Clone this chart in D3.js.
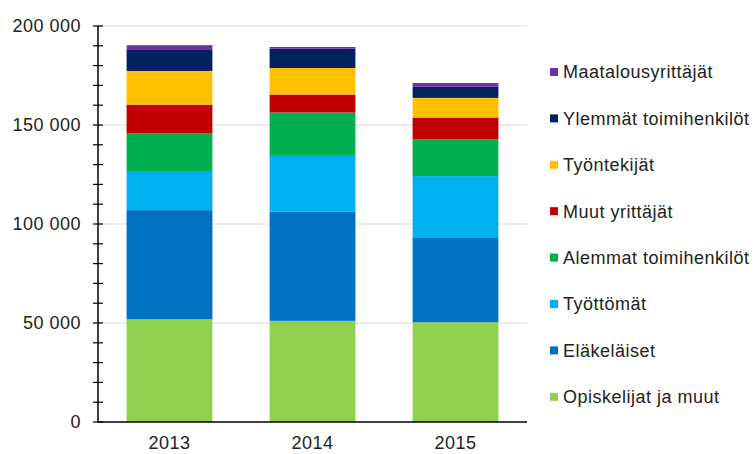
<!DOCTYPE html>
<html>
<head>
<meta charset="utf-8">
<script src="https://cdn.jsdelivr.net/npm/d3@7"></script>
<style>
    body { margin: 0; background: #fff; }
    text { font-family: "Liberation Sans", Arial, sans-serif; fill: #222; }
</style>
</head>
<body>
<div class="chart"></div>
<script>
// years on the x axis
const years = ["2013", "2014", "2015"];

// series, bottom of the stack first
const series = ["Opiskelijat ja muut", "Eläkeläiset", "Työttömät", "Alemmat toimihenkilöt",
    "Muut yrittäjät", "Työntekijät", "Ylemmät toimihenkilöt", "Maatalousyrittäjät"];
const colors = ["#92D050", "#0070C0", "#00B0F0", "#00B050", "#C00000", "#FFC000", "#002060", "#7030A0"];

const opiskelijat = [51900, 51100, 50400];
const elakelaiset = [55100, 55100, 42900];
const tyottomat = [19300, 28200, 30900];
const alemmat = [19400, 21900, 18500];
const muutYrittajat = [14600, 9100, 11100];
const tyontekijat = [17000, 13400, 9900];
const ylemmat = [10600, 9800, 5600];
const maatalous = [2400, 800, 1900];

const yTicks = [0, 50000, 100000, 150000, 200000];

document.addEventListener("DOMContentLoaded", function () {

    const w = 754,
        h = 454,
        left = 98,
        right = 527,
        top = 26,
        bottom = 422;

    const values = [opiskelijat, elakelaiset, tyottomat, alemmat, muutYrittajat, tyontekijat, ylemmat, maatalous];
    const dataset = years.map((y, i) => {
        const row = { year: y };
        series.forEach((s, j) => row[s] = values[j][i]);
        return row;
    });

    const stacked = d3.stack().keys(series)(dataset);

    const xScale = d3.scaleBand()
        .domain(years)
        .range([left, right])
        .paddingInner(0.4)
        .paddingOuter(0.2);

    const yScale = d3.scaleLinear()
        .domain([0, 200000])
        .range([bottom, top]);

    const fmt = d => d3.format(",")(d).replace(/,/g, " ");

    const svg = d3.select(".chart")
        .append("svg")
        .attr("width", w)
        .attr("height", h);

    // gridlines
    svg.append("g")
        .selectAll("line")
        .data(yTicks.slice(1))
        .enter()
        .append("line")
        .attr("x1", left)
        .attr("x2", right)
        .attr("y1", d => yScale(d))
        .attr("y2", d => yScale(d))
        .attr("stroke", "#d9d9d9")
        .attr("stroke-width", 1);

    // bars
    svg.append("g")
        .selectAll("g")
        .data(stacked)
        .enter()
        .append("g")
        .attr("fill", (d, i) => colors[i])
        .selectAll("rect")
        .data(d => d)
        .enter()
        .append("rect")
        .attr("x", d => xScale(d.data.year))
        .attr("y", d => yScale(d[1]))
        .attr("width", xScale.bandwidth())
        .attr("height", d => yScale(d[0]) - yScale(d[1]));

    // y axis with minor ticks crossing the line
    const yAxis = svg.append("g")
        .attr("id", "y-axis")
        .attr("transform", "translate(" + left + ",0)");

    yAxis.append("line")
        .attr("y1", yScale(200000))
        .attr("y2", yScale(0))
        .attr("stroke", "#000")
        .attr("stroke-width", 1.5);

    yAxis.selectAll(".minor")
        .data(yScale.ticks(20))
        .enter()
        .append("line")
        .attr("x1", -5)
        .attr("x2", 5)
        .attr("y1", d => yScale(d))
        .attr("y2", d => yScale(d))
        .attr("stroke", "#000")
        .attr("stroke-width", 1.2);

    yAxis.selectAll("text")
        .data(yTicks)
        .enter()
        .append("text")
        .attr("x", -17)
        .attr("y", d => yScale(d))
        .attr("dy", "0.36em")
        .attr("text-anchor", "end")
        .style("font-size", "18px")
        .style("letter-spacing", "0.5px")
        .text(fmt);

    // x axis
    const xAxis = d3.axisBottom(xScale).tickSize(0).tickPadding(14);
    const gx = svg.append("g")
        .attr("id", "x-axis")
        .attr("transform", "translate(0," + bottom + ")")
        .call(xAxis);
    gx.select(".domain")
        .attr("d", "M" + (left - 1) + ",0H" + right)
        .attr("stroke", "#000")
        .attr("stroke-width", 1.5);
    gx.selectAll("text")
        .style("font-family", "'Liberation Sans', Arial, sans-serif")
        .style("font-size", "18px")
        .style("letter-spacing", "0.5px")
        .attr("fill", "#222");

    // legend, top item is the top of the stack
    const legend = svg.append("g")
        .selectAll("g")
        .data(series.slice().reverse())
        .enter()
        .append("g")
        .attr("transform", (d, i) => "translate(550," + (72 + i * 46.4) + ")");

    legend.append("rect")
        .attr("x", 0)
        .attr("y", -4)
        .attr("width", 8)
        .attr("height", 8)
        .attr("fill", d => colors[series.indexOf(d)]);

    legend.append("text")
        .attr("x", 13)
        .attr("y", 0)
        .attr("dy", "0.36em")
        .style("font-size", "18px")
        .style("letter-spacing", "0.5px")
        .text(d => d);
});
</script>
</body>
</html>
